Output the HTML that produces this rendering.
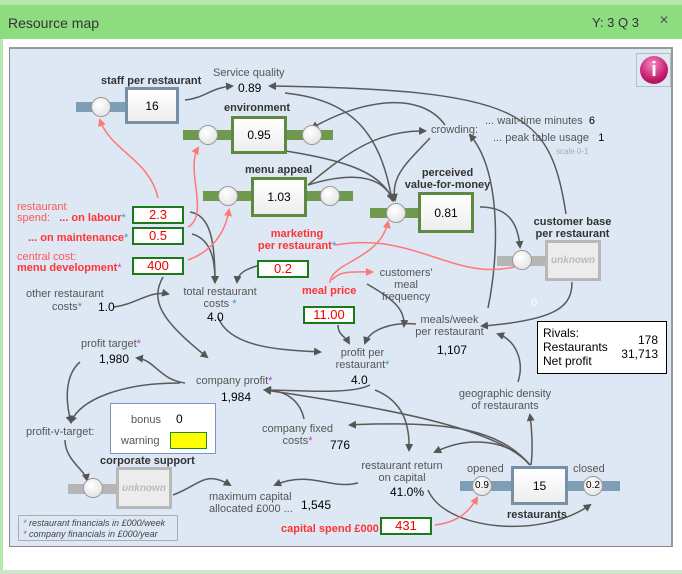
<!DOCTYPE html>
<html><head><meta charset="utf-8"><style>
*{margin:0;padding:0;box-sizing:border-box}
body{width:682px;height:574px;overflow:hidden;background:#fff;font-family:"Liberation Sans",sans-serif;position:relative}
.t{position:absolute;white-space:nowrap;font-size:11px;color:#555;line-height:12px}
.c{text-align:center}
.b{font-weight:bold;color:#333}
.v{position:absolute;font-size:12px;color:#000;white-space:nowrap;line-height:13px}
.r{color:#f33;font-weight:bold}
.rl{color:#f55}
.in{position:absolute;border:2px solid #1a7a1a;background:#fff;color:#e00;font-size:13px;text-align:center;line-height:14px;width:52px;height:18px}
.box{position:absolute;background:linear-gradient(#fff,#eee);font-size:12px;display:flex;align-items:center;justify-content:center}
.gb{border:3px solid #5d8a3e}
.bb{border:3px solid #7690a6}
.xb{border:3px solid #b8b8b8;color:#bbb;font-style:italic;font-weight:bold;background:#ececec}
.pipe{position:absolute;height:10px}
.pg{background:#6f9a4e}
.pb{background:#7f9db5}
.px{background:#b5b5b5}
.val{position:absolute;width:20px;height:20px;border-radius:50%;background:radial-gradient(circle at 40% 35%,#fff,#ddd);border:1px solid #999;font-size:10px;text-align:center;line-height:18px}
.s{color:#39c}.p{color:#c3c}
</style></head><body>
<div style="position:absolute;left:0;top:0;width:682px;height:6px;background:#b4e7ac"></div>
<div style="position:absolute;left:0;top:5px;width:682px;height:34px;background:#8edc80"></div>
<div class="t" style="left:8px;top:15px;font-size:14px;color:#333;line-height:16px">Resource map</div>
<div class="t" style="left:592px;top:15px;font-size:13px;color:#333;line-height:16px">Y: 3 Q 3</div>
<div class="t" style="left:659px;top:14px;font-size:12px;color:#555">✕</div>
<div style="position:absolute;left:0;top:39px;width:3px;height:535px;background:#b4e7ac"></div>
<div style="position:absolute;left:0;top:570px;width:682px;height:4px;background:#cfe6ca"></div>
<div style="position:absolute;left:9px;top:47px;width:664px;height:500px;background:#dde8f4;border:1px solid #888;border-top:2px solid #999;border-right:2px solid #999"></div>

<svg style="position:absolute;left:0;top:0" width="682" height="574">
<defs>
<marker id="a" markerWidth="8" markerHeight="8" refX="6" refY="4" orient="auto" markerUnits="userSpaceOnUse"><path d="M0,0L8,4L0,8z" fill="#555"/></marker>
<marker id="ar" markerWidth="8" markerHeight="8" refX="6" refY="4" orient="auto" markerUnits="userSpaceOnUse"><path d="M0,0L8,4L0,8z" fill="#f77"/></marker>
</defs>
<g fill="none" stroke="#5a5a5a" stroke-width="1.5" marker-end="url(#a)">
<path d="M185,100 C205,98 210,88 232,86"/>
<path d="M566,214 C550,110 520,90 270,86"/>
<path d="M285,93 C350,100 380,130 392,200"/>
<path d="M445,125 C420,90 360,100 312,128"/>
<path d="M286,151 C340,160 380,170 393,200"/>
<path d="M308,185 C350,150 380,130 425,131"/>
<path d="M308,185 C340,175 380,170 393,200"/>
<path d="M430,138 C410,160 390,175 395,200"/>
<path d="M480,207 C510,207 518,225 520,247"/>
<path d="M488,308 C500,250 500,170 470,135"/>
<path d="M572,282 C572,305 560,320 482,326"/>
<path d="M367,284 C395,300 405,310 404,326"/>
<path d="M416,324 C390,322 370,330 365,343"/>
<path d="M338,325 C338,335 345,336 349,343"/>
<path d="M218,317 C230,350 290,350 320,352"/>
<path d="M266,264 C255,266 238,270 237,282"/>
<path d="M190,212 C210,215 215,240 215,282"/>
<path d="M192,234 C215,240 215,270 215,282"/>
<path d="M113,307 C135,305 150,290 168,294"/>
<path d="M163,277 C150,300 160,320 207,357"/>
<path d="M518,382 C525,360 515,340 498,334"/>
<path d="M370,385 C350,395 300,390 265,390"/>
<path d="M375,390 C400,400 410,420 409,450"/>
<path d="M185,383 C160,380 155,360 137,358"/>
<path d="M180,383 C120,383 80,400 71,422"/>
<path d="M80,362 C65,375 65,400 71,422"/>
<path d="M65,440 C65,460 85,470 87,480"/>
<path d="M304,419 C300,400 285,390 265,390"/>
<path d="M530,465 C500,430 400,410 265,390"/>
<path d="M530,465 C500,430 450,420 350,425"/>
<path d="M530,465 C510,440 470,435 435,452"/>
<path d="M531,465 C533,450 532,430 530,415"/>
<path d="M358,483 C330,490 310,470 275,485"/>
<path d="M173,495 C200,485 205,470 230,485"/>
<path d="M428,490 C445,530 540,540 590,505"/>
</g>
<g fill="none" stroke="#f77" stroke-width="1.5" marker-end="url(#ar)">
<path d="M158,198 C150,160 110,150 100,120"/>
<path d="M188,227 C210,215 185,170 198,148"/>
<path d="M188,260 C210,252 225,235 229,210"/>
<path d="M335,245 C420,230 460,290 530,262"/>
<path d="M330,283 C330,262 380,260 388,222"/>
<path d="M332,280 C340,270 355,272 372,272"/>
<path d="M435,525 C460,522 470,510 477,498"/>
</g>
</svg>

<div style="position:absolute;left:636px;top:53px;width:35px;height:34px;border:1px solid #bbb"></div>
<div style="position:absolute;left:640px;top:56px;width:28px;height:28px;border-radius:50%;background:radial-gradient(circle at 45% 30%,#f38ac0,#c51a6c 60%,#8c0c48);color:#fff;font-weight:bold;font-size:20px;text-align:center;line-height:28px">i</div>

<div class="t b" style="left:101px;top:75px">staff per restaurant</div>
<div class="pipe pb" style="left:76px;top:102px;width:50px"></div>
<div class="val" style="left:91px;top:97px"></div>
<div class="box bb" style="left:125px;top:87px;width:54px;height:37px">16</div>
<div class="t" style="left:213px;top:67px">Service quality</div>
<div class="v" style="left:238px;top:82px">0.89</div>

<div class="t b" style="left:224px;top:102px">environment</div>
<div class="pipe pg" style="left:183px;top:130px;width:150px"></div>
<div class="val" style="left:198px;top:125px"></div>
<div class="val" style="left:302px;top:125px"></div>
<div class="box gb" style="left:231px;top:116px;width:56px;height:38px">0.95</div>

<div class="t b" style="left:245px;top:164px">menu appeal</div>
<div class="pipe pg" style="left:203px;top:191px;width:150px"></div>
<div class="val" style="left:218px;top:186px"></div>
<div class="val" style="left:320px;top:186px"></div>
<div class="box gb" style="left:251px;top:177px;width:56px;height:40px">1.03</div>

<div class="t b c" style="left:400px;top:167px;width:95px">perceived<br>value-for-money</div>
<div class="pipe pg" style="left:370px;top:208px;width:50px"></div>
<div class="val" style="left:386px;top:203px"></div>
<div class="box gb" style="left:418px;top:192px;width:56px;height:41px">0.81</div>

<div class="t b c" style="left:525px;top:216px;width:95px">customer base<br>per restaurant</div>
<div class="pipe px" style="left:497px;top:256px;width:50px"></div>
<div class="val" style="left:512px;top:250px"></div>
<div class="box xb" style="left:545px;top:240px;width:56px;height:41px;font-size:10px">unknown</div>
<div class="t" style="left:531px;top:297px;color:#fff">0</div>

<div class="t" style="left:431px;top:124px">crowding:</div>
<div class="t" style="left:485px;top:115px">... wait-time minutes&nbsp;&nbsp;<span style="color:#000">6</span></div>
<div class="t" style="left:493px;top:132px">... peak table usage&nbsp;&nbsp;&nbsp;<span style="color:#000">1</span></div>
<div class="t" style="left:556px;top:147px;font-size:8px;color:#aaa;line-height:9px">scale 0-1</div>

<div class="t rl" style="left:17px;top:201px">restaurant</div>
<div class="t" style="left:17px;top:212px"><span class="rl">spend:</span>&nbsp;&nbsp;&nbsp;<span class="r">... on labour</span><span class="s">*</span></div>
<div class="t" style="left:28px;top:232px"><span class="r">... on maintenance</span><span class="s">*</span></div>
<div class="t rl" style="left:17px;top:251px">central cost:</div>
<div class="t" style="left:17px;top:262px"><span class="r">menu development</span><span class="p">*</span></div>
<div class="in" style="left:132px;top:206px">2.3</div>
<div class="in" style="left:132px;top:227px">0.5</div>
<div class="in" style="left:132px;top:257px">400</div>
<div class="t c" style="left:252px;top:228px;width:90px"><span class="r">marketing<br>per restaurant</span><span class="s">*</span></div>
<div class="in" style="left:257px;top:260px">0.2</div>
<div class="t r" style="left:302px;top:285px">meal price</div>
<div class="in" style="left:303px;top:306px">11.00</div>
<div class="t c" style="left:370px;top:267px;width:72px">customers'<br>meal<br>frequency</div>

<div class="t" style="left:26px;top:288px">other restaurant</div>
<div class="t" style="left:52px;top:301px">costs<span class="s">*</span></div>
<div class="v" style="left:98px;top:301px">1.0</div>

<div class="t c" style="left:170px;top:286px;width:100px">total restaurant<br>costs <span class="s">*</span></div>
<div class="v" style="left:207px;top:311px">4.0</div>

<div class="t c" style="left:325px;top:347px;width:75px">profit per<br>restaurant<span class="s">*</span></div>
<div class="v" style="left:351px;top:374px">4.0</div>

<div class="t c" style="left:412px;top:314px;width:75px">meals/week<br>per restaurant</div>
<div class="v" style="left:437px;top:344px">1,107</div>

<div style="position:absolute;left:537px;top:321px;width:130px;height:53px;border:1px solid #000;background:#fff;font-size:12px;padding:4px 5px;line-height:14px;color:#000">Rivals:<br>Restaurants<br>Net profit
<div style="position:absolute;right:8px;top:11px;text-align:right;line-height:14px">178<br>31,713</div></div>

<div class="t" style="left:81px;top:338px">profit target<span class="p">*</span></div>
<div class="v" style="left:99px;top:353px">1,980</div>
<div class="t" style="left:196px;top:375px">company profit<span class="p">*</span></div>
<div class="v" style="left:221px;top:391px">1,984</div>
<div class="t" style="left:26px;top:426px">profit-v-target:</div>

<div style="position:absolute;left:110px;top:403px;width:106px;height:51px;border:1px solid #7a95c0;background:#fff"></div>
<div class="t" style="left:131px;top:414px">bonus</div>
<div class="v" style="left:176px;top:413px">0</div>
<div class="t" style="left:121px;top:435px">warning</div>
<div style="position:absolute;left:170px;top:432px;width:37px;height:17px;background:#ff0;border:1px solid #282"></div>

<div class="t c" style="left:255px;top:423px;width:85px">company fixed<br>costs<span class="p">*</span></div>
<div class="v" style="left:330px;top:439px">776</div>
<div class="t c" style="left:450px;top:388px;width:110px">geographic density<br>of restaurants</div>

<div class="t b" style="left:100px;top:455px">corporate support</div>
<div class="pipe px" style="left:68px;top:484px;width:50px"></div>
<div class="val" style="left:83px;top:478px"></div>
<div class="box xb" style="left:116px;top:467px;width:56px;height:42px;font-size:10px">unknown</div>

<div class="t" style="left:209px;top:491px">maximum capital<br>allocated £000 ...</div>
<div class="v" style="left:301px;top:499px">1,545</div>

<div class="t c" style="left:352px;top:460px;width:100px">restaurant return<br>on capital</div>
<div class="v" style="left:390px;top:486px">41.0%</div>

<div class="t" style="left:467px;top:463px">opened</div>
<div class="t" style="left:573px;top:463px">closed</div>
<div class="pipe pb" style="left:460px;top:481px;width:160px"></div>
<div class="val" style="left:472px;top:476px">0.9</div>
<div class="val" style="left:583px;top:476px">0.2</div>
<div class="box bb" style="left:511px;top:466px;width:57px;height:39px">15</div>
<div class="t b" style="left:507px;top:509px">restaurants</div>

<div class="t r" style="left:281px;top:523px">capital spend £000</div>
<div class="in" style="left:380px;top:517px">431</div>

<div style="position:absolute;left:18px;top:515px;width:160px;height:26px;border:1px solid #aab;font-size:9px;font-style:italic;color:#444;line-height:11px;padding:2px 0 0 4px"><span class="s">*</span> restaurant financials in £000/week<br><span class="p">*</span> company financials in £000/year</div>
</body></html>
